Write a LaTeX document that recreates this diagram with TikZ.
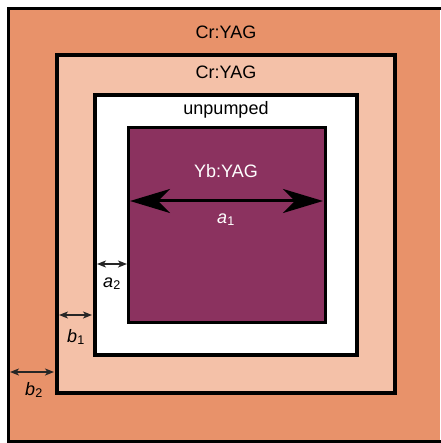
\documentclass[tikz,border=0pt]{standalone}
\usepackage{fontspec}
\setmainfont{Liberation Sans}
\usetikzlibrary{arrows.meta}
\definecolor{crouter}{RGB}{232,146,106}
\definecolor{crinner}{RGB}{244,193,168}
\definecolor{ybcore}{RGB}{139,50,95}
\tikzset{
  layer/.style={draw=black},
  lbl/.style={anchor=base, inner sep=0pt, font=\fontsize{18}{20}\selectfont},
  dimlbl/.style={anchor=base, inner sep=0pt, font=\fontsize{18}{20}\selectfont\itshape},
  bigdim/.style={line width=3pt, {Stealth[length=40pt,width=24pt,inset=12pt]}-{Stealth[length=40pt,width=24pt,inset=12pt]}},
  smalldim/.style={line width=1.4pt, draw=black!85, {Stealth[length=9pt,width=7pt,inset=2.5pt]}-{Stealth[length=9pt,width=7pt,inset=2.5pt]}}
}
\begin{document}
\begin{tikzpicture}[x=1pt,y=-1pt]
\useasboundingbox (0,0) rectangle (440,443);
\fill[white] (0,0) rectangle (440,443);

% outer Cr:YAG cladding runs past the right edge
\fill[crouter] (8.5,8.5) rectangle (440,441);
\draw[line width=3pt, line cap=rect] (440,8.5) -- (8.5,8.5) -- (8.5,441) -- (440,441);

% nested crystal layers
\path[layer, fill=crinner, line width=4pt] (57,55) rectangle (395,393);
\path[layer, fill=white, line width=4pt] (95,95) rectangle (357,355);
\path[layer, fill=ybcore, line width=3pt] (128.5,127.5) rectangle (325,322);

% layer names
\node[lbl] (crA) at (226,39) {Cr:YAG};
\node[lbl] (crB) at (226,79) {Cr:YAG};
\node[lbl] (unp) at (226,115) {unpumped};
\node[lbl, text=white] (yb) at (226,178) {Yb:YAG};

% dimension markers
\coordinate (a1L) at (130,201);
\coordinate (a1R) at (323,201);
\draw[bigdim] (a1L) -- (a1R);
\node[dimlbl, text=white] (a1) at (226,223) {a\textsubscript{\upshape 1}};

\coordinate (a2L) at (97,264);
\coordinate (a2R) at (127,264);
\draw[smalldim] (a2L) -- (a2R);
\node[dimlbl] (a2) at (112,287) {a\textsubscript{\upshape 2}};

\coordinate (b1L) at (59,315);
\coordinate (b1R) at (92,315);
\draw[smalldim] (b1L) -- (b1R);
\node[dimlbl] (b1) at (76,342) {b\textsubscript{\upshape 1}};

\coordinate (b2L) at (10,372);
\coordinate (b2R) at (54,372);
\draw[smalldim] (b2L) -- (b2R);
\node[dimlbl] (b2) at (34,395) {b\textsubscript{\upshape 2}};
\end{tikzpicture}
\end{document}
